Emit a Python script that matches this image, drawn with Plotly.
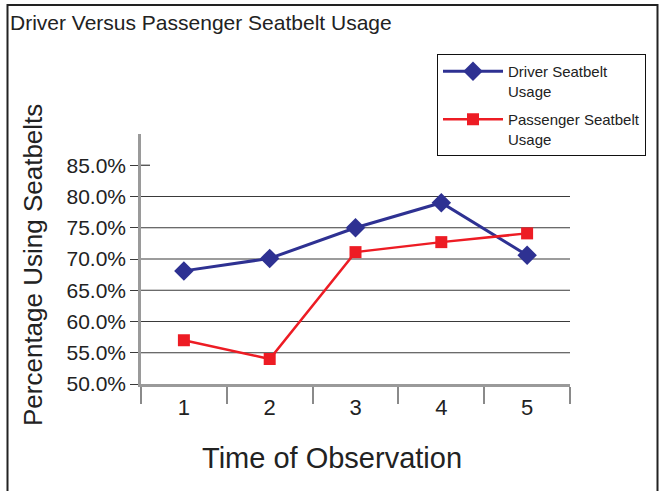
import plotly.graph_objects as go

# ---- data ----
observations = [1, 2, 3, 4, 5]
driver_usage = [68.1, 70.1, 75.0, 79.0, 70.6]
passenger_usage = [57.0, 54.0, 71.1, 72.7, 74.1]
y_tick_values = [50, 55, 60, 65, 70, 75, 80, 85]
y_tick_labels = ["50.0%", "55.0%", "60.0%", "65.0%", "70.0%", "75.0%", "80.0%", "85.0%"]
grid_values = [55, 60, 65, 70, 75, 80]
category_bounds = [0.5, 1.5, 2.5, 3.5, 4.5, 5.5]

FONT = "Liberation Sans, Arial, Helvetica, sans-serif"
W, H = 659, 491
L, R, T, B = 141, 89, 134, 107
PW, PH = W - L - R, H - T - B


def px_x(p):
    return (p - L) / PW


def px_y(p):
    return (H - B - p) / PH


fig = go.Figure()
fig.add_trace(go.Scatter(
    x=observations, y=driver_usage, mode="lines+markers",
    name="Driver Seatbelt<br>Usage",
    line=dict(color="#2E3192", width=3),
    marker=dict(symbol="diamond", size=15, color="#2E3192"),
    legendgroup="a",
))
fig.add_trace(go.Scatter(
    x=observations, y=passenger_usage, mode="lines+markers",
    name="Passenger Seatbelt<br>Usage",
    line=dict(color="#ED1C24", width=2.5),
    marker=dict(symbol="square", size=12, color="#ED1C24"),
    legendgroup="b",
))

shapes = []
for g in grid_values:
    shapes.append(dict(type="line", xref="paper", yref="y", x0=0, x1=1, y0=g, y1=g,
                       line=dict(color="#3a3a3a", width=1.2), layer="below"))
# short cross tick at the top label
shapes.append(dict(type="line", xref="paper", yref="y", x0=0, x1=px_x(150),
                   y0=y_tick_values[-1], y1=y_tick_values[-1],
                   line=dict(color="#3a3a3a", width=1.2), layer="below"))
# outer frame
shapes.append(dict(type="rect", xref="paper", yref="paper",
                   x0=px_x(7.5), x1=px_x(657.5), y0=px_y(5), y1=px_y(500),
                   line=dict(color="#222", width=2), fillcolor="rgba(0,0,0,0)"))

fig.update_layout(
    width=W, height=H,
    margin=dict(l=L, r=R, t=T, b=B),
    paper_bgcolor="white", plot_bgcolor="white",
    font=dict(family=FONT, color="#222"),
    title=dict(text="Driver Versus Passenger Seatbelt Usage", x=10 / W, xanchor="left",
               y=1 - 23 / H, yanchor="middle", font=dict(size=21, color="#222", family=FONT)),
    showlegend=True,
    legend=dict(x=px_x(437), y=px_y(54), xanchor="left", yanchor="top",
                bordercolor="#111", borderwidth=1, bgcolor="white",
                font=dict(size=15, family=FONT, color="#222"), valign="top",
                tracegroupgap=6, itemwidth=60),
    shapes=shapes,
    annotations=[
        dict(text="Percentage Using Seatbelts", xref="paper", yref="paper",
             x=px_x(33), y=px_y(265), textangle=-90, showarrow=False,
             xanchor="center", yanchor="middle", font=dict(size=26, family=FONT, color="#222")),
        dict(text="Time of Observation", xref="paper", yref="paper",
             x=px_x(332), y=px_y(458), showarrow=False,
             xanchor="center", yanchor="middle", font=dict(size=29, family=FONT, color="#222")),
    ],
)

fig.update_xaxes(
    range=[category_bounds[0], category_bounds[-1]],
    tickvals=observations, ticktext=[str(o) for o in observations],
    ticks="", showgrid=False, zeroline=False,
    showline=True, linecolor="#9a9a9a", linewidth=2.5,
    tickfont=dict(size=22, family=FONT, color="#222"),
    ticklabelstandoff=2,
    minor=dict(tickvals=category_bounds, ticks="outside", ticklen=17,
               tickcolor="#8a8a8a", tickwidth=1.5, showgrid=False),
)
fig.update_yaxes(
    range=[50, 90],
    tickvals=y_tick_values, ticktext=y_tick_labels,
    ticks="outside", ticklen=8, tickcolor="#3a3a3a", tickwidth=1.2,
    showgrid=False, zeroline=False,
    showline=True, linecolor="#9a9a9a", linewidth=2.5,
    tickfont=dict(size=21, family=FONT, color="#222"),
)

fig.write_html("out.html", config={"displayModeBar": False},
               post_script="document.body.style.margin='0';")
